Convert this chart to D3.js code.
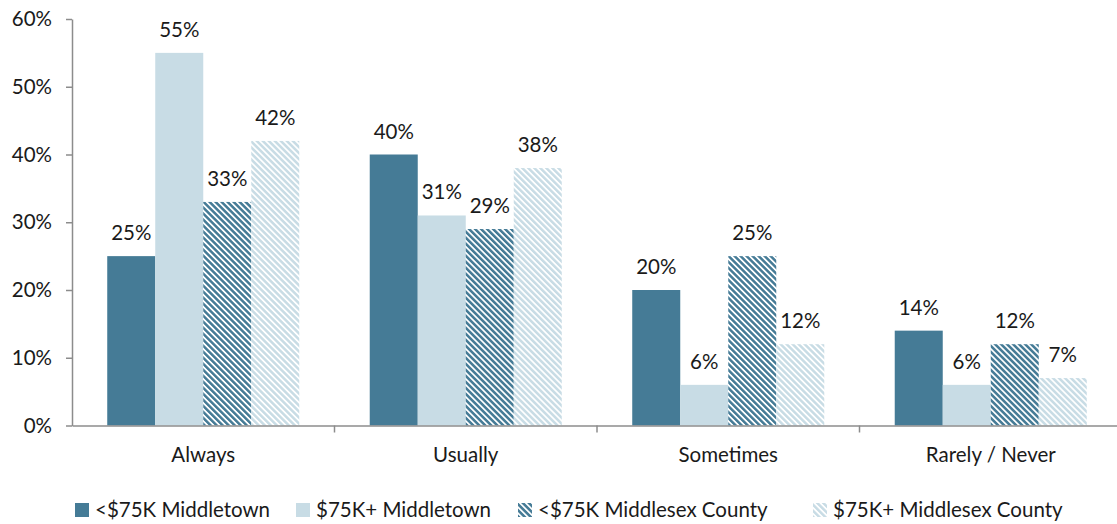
<!DOCTYPE html>
<html><head><meta charset="utf-8">
<script src="https://cdn.jsdelivr.net/npm/d3@7"></script>
<style>
html,body{margin:0;padding:0;background:#fff;}
svg text{font-family:Lato,"Open Sans",sans-serif;fill:#1a1a1a;}
</style></head>
<body>
<svg id="chart" width="1117" height="524"></svg>
<script>
const categories = ["Always", "Usually", "Sometimes", "Rarely / Never"];
const seriesNames = ["<$75K Middletown", "$75K+ Middletown", "<$75K Middlesex County", "$75K+ Middlesex County"];
const lowMiddletown = [25, 40, 20, 14];
const highMiddletown = [55, 31, 6, 6];
const lowMiddlesex = [33, 29, 25, 12];
const highMiddlesex = [42, 38, 12, 7];
const yTicks = [0, 10, 20, 30, 40, 50, 60];

const seriesValues = [lowMiddletown, highMiddletown, lowMiddlesex, highMiddlesex];
const dark = "#457b96", light = "#c8dce5";
const FS = 20.5;

const svg = d3.select("#chart");
const defs = svg.append("defs");
function hatch(id, color) {
  const p = defs.append("pattern").attr("id", id).attr("patternUnits", "userSpaceOnUse")
    .attr("width", 4.25).attr("height", 10).attr("patternTransform", "rotate(-45)");
  p.append("rect").attr("width", 4.25).attr("height", 10).attr("fill", "#fff");
  p.append("rect").attr("width", 2.5).attr("height", 10).attr("fill", color);
}
hatch("hDark", dark);
hatch("hLight", light);
const fills = [dark, light, "url(#hDark)", "url(#hLight)"];

const mLeft = 72, mRight = 1122, mTop = 19, mBottom = 425.5;
const x = d3.scaleBand().domain(categories).range([mLeft, mRight]).paddingInner(0).paddingOuter(0);
const bw = x.bandwidth();
const inner = d3.scaleBand().domain(d3.range(4)).range([0, bw]).paddingInner(0).paddingOuter(0.734);
const y = d3.scaleLinear().domain([0, 60]).range([mBottom, mTop]);

// bars
categories.forEach((c, ci) => {
  const g = svg.append("g").attr("transform", `translate(${x(c)},0)`);
  seriesValues.forEach((vals, si) => {
    const v = vals[ci];
    g.append("rect").attr("x", inner(si)).attr("width", inner.bandwidth())
      .attr("y", y(v)).attr("height", y(0) - y(v)).attr("fill", fills[si]);
    g.append("text").attr("x", inner(si) + inner.bandwidth() / 2).attr("y", y(v) - 16)
      .attr("text-anchor", "middle").attr("font-size", FS).text(v + "%");
  });
});

// y axis
const yAxis = svg.append("g").attr("transform", `translate(${mLeft},0)`)
  .call(d3.axisLeft(y).tickValues(yTicks).tickFormat(d => d + "%").tickSizeOuter(0).tickSizeInner(6).tickPadding(14));
yAxis.select(".domain").attr("stroke", "#8c8c8c").attr("stroke-width", 1.5);
yAxis.selectAll(".tick line").attr("stroke", "#8c8c8c").attr("stroke-width", 1.5);
yAxis.selectAll(".tick text").attr("font-size", FS).attr("font-family", "Lato").attr("fill", "#1a1a1a");

// x axis
const xAxis = svg.append("g").attr("transform", `translate(0,${mBottom})`)
  .call(d3.axisBottom(x).tickSize(0).tickPadding(22));
xAxis.select(".domain").attr("stroke", "#8c8c8c").attr("stroke-width", 1.5);
xAxis.selectAll(".tick text").attr("font-size", FS).attr("font-family", "Lato").attr("fill", "#1a1a1a");
xAxis.selectAll(".sep").data(categories.slice(1)).enter().append("line")
  .attr("x1", d => x(d)).attr("x2", d => x(d)).attr("y1", 0).attr("y2", 7)
  .attr("stroke", "#8c8c8c").attr("stroke-width", 1.5);

// legend
const legendX = [75, 296, 518, 813];
const lg = svg.append("g");
seriesNames.forEach((n, i) => {
  lg.append("rect").attr("x", legendX[i]).attr("y", 503).attr("width", 14).attr("height", 14).attr("fill", fills[i]);
  lg.append("text").attr("x", legendX[i] + 20).attr("y", 517).attr("font-size", FS).text(n);
});
</script>
</body></html>
